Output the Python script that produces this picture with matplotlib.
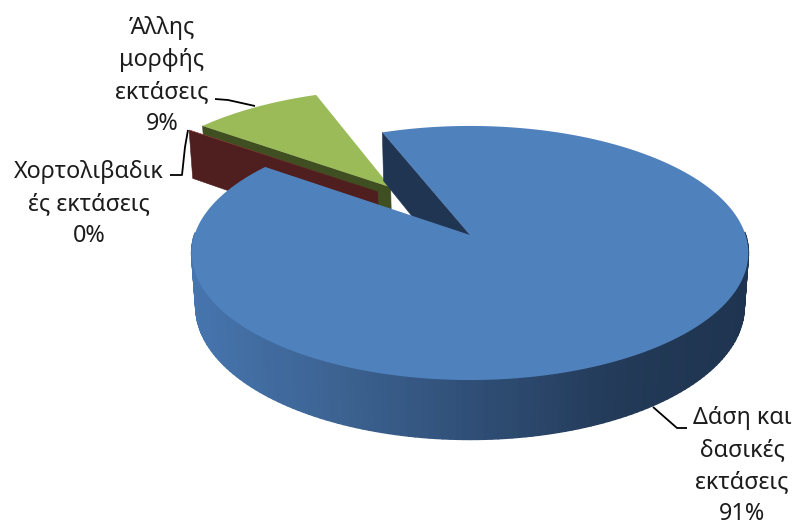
import numpy as np
import matplotlib
matplotlib.use("Agg")
import matplotlib.pyplot as plt
from matplotlib.path import Path
from matplotlib.transforms import Transform, Affine2D

# ---- data ----
categories = ["Δάση και\nδασικές\nεκτάσεις", "Χορτολιβαδικ\nές εκτάσεις", "Άλλης\nμορφής\nεκτάσεις"]
values = [90.95, 0.05, 9.0]

# ---- style ----
top_colors = ["#4F81BD", "#C0504D", "#9BBB59"]
wall_colors = ["#1F3552", "#4F1F1F", "#3F4F21"]
explode_len = [0.0, 0.507, 0.507]
explode_dir = [0.0, 44.0, 36.9]     # degrees counter-clockwise from 12 o'clock
start_angle = 111.1

CX, CY = 470.0, 235.0
A, B, K, D, Q = 275.5, 124.5, 0.1416, 54.0, 0.015

plt.rcParams["font.family"] = ["Noto Sans", "DejaVu Sans"]


def project(u, v, z=0.0):
    u, v = np.asarray(u, float), np.asarray(v, float)
    denom = 1 + K * v - Q * z
    return CX + A * u / denom, CY - (B * v + D * z) / denom


class Projection(Transform):
    input_dims = output_dims = 2
    is_affine = False
    has_inverse = False

    def transform_non_affine(self, values):
        values = np.asarray(values, float)
        return np.column_stack(project(values[:, 0], values[:, 1]))

    def transform_path_non_affine(self, path):
        poly = Affine2D().scale(2000).transform_path(path).to_polygons(closed_only=False)[0] / 2000
        return Path(self.transform_non_affine(poly))


fig = plt.figure(figsize=(7.97, 5.27), dpi=100)
ax = fig.add_axes([0, 0, 1, 1])
wedges, _ = ax.pie(values, colors=top_colors, startangle=start_angle, counterclock=False)
ax.set_aspect("auto")
ax.set_xlim(0, 797)
ax.set_ylim(527, 0)
ax.axis("off")

offsets = []
for w, e, d in zip(wedges, explode_len, explode_dir):
    offsets.append((-e * np.sin(np.radians(d)), e * np.cos(np.radians(d))))


def cut_face(i, theta, color, zorder):
    ox, oy = offsets[i]
    t = np.radians(theta)
    us = np.array([ox, ox + np.cos(t), ox + np.cos(t), ox])
    vs = np.array([oy, oy + np.sin(t), oy + np.sin(t), oy])
    zs = np.array([0, 0, -1, -1.0])
    x, y = project(us, vs, zs)
    ax.fill(x, y, color=color, lw=0.4, zorder=zorder)


def mix(x):
    stops_x = [192, 330, 470, 620, 750]
    r = np.interp(x, stops_x, [70, 61, 48, 35, 30])
    g = np.interp(x, stops_x, [117, 100, 79, 58, 52])
    b = np.interp(x, stops_x, [174, 148, 119, 88, 80])
    return (r / 255, g / 255, b / 255)


# z-order: green body, then red wall in front of it, green/red tops, then the blue slice
ZO = {2: (2, 5), 1: (3, 4), 0: (6, 9)}
for i, w in enumerate(wedges):
    wall_z, top_z = ZO[i]
    ox, oy = offsets[i]
    w.set_transform(Affine2D().translate(ox, oy) + Projection() + ax.transData)
    w.set_zorder(top_z)
    w.set_edgecolor("none")
    w.set_clip_on(False)
    cut_face(i, w.theta2, wall_colors[i], wall_z)

# blue outer wall, drawn as thin shaded strips
w0 = wedges[0]
th = np.radians(np.linspace(w0.theta1, w0.theta2, 260))
cu, cv = np.cos(th), np.sin(th)
for j in range(len(th) - 1):
    if cv[j] > 0.0 and cv[j + 1] > 0.0:
        continue
    us = [cu[j], cu[j + 1], cu[j + 1], cu[j]]
    vs = [cv[j], cv[j + 1], cv[j + 1], cv[j]]
    x, y = project(us, vs, np.array([0, 0, -1, -1.0]))
    col = mix(x.mean())
    ax.fill(x, y, facecolor=col, edgecolor=col, lw=1.2, zorder=7, joinstyle="round")

# labels
pct = [f"{v:.0f}%" for v in values]
text_kw = dict(ha="center", va="center", fontsize=16.8, color="#1c1c1c", linespacing=1.44, zorder=12)
ax.text(742, 466, f"{categories[0]}\n{pct[0]}", **text_kw)
ax.text(89, 204, f"{categories[1]}\n{pct[1]}", **text_kw)
ax.text(162, 76, f"{categories[2]}\n{pct[2]}", **text_kw)

# leader lines
line_kw = dict(color="black", lw=1.3, zorder=11, solid_capstyle="butt")
ax.plot([653, 677, 687], [407, 428, 428], **line_kw)
ax.plot([170, 182, 185, 188], [175, 175, 147, 130], **line_kw)
ax.plot([215, 228, 255], [99, 100, 106], **line_kw)

fig.savefig("out.png", dpi=100)
